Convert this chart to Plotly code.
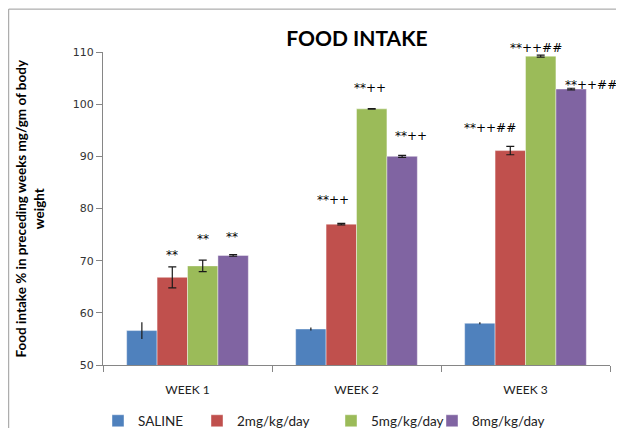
import plotly.graph_objects as go

weeks = ["WEEK 1", "WEEK 2", "WEEK 3"]
groups = ["SALINE", "2mg/kg/day", "5mg/kg/day", "8mg/kg/day"]
saline = [56.6, 56.9, 58.0]
mg2 = [66.8, 77.0, 91.1]
mg5 = [69.0, 99.1, 109.2]
mg8 = [71.0, 90.0, 102.9]
err_saline = [1.6, 0.3, 0.2]
err_mg2 = [2.0, 0.15, 0.8]
err_mg5 = [1.1, 0.05, 0.2]
err_mg8 = [0.15, 0.2, 0.15]
sig_mg2 = ["**", "**++", "**++##"]
sig_mg5 = ["**", "**++", "**++##"]
sig_mg8 = ["**", "**++", "**++##"]
y_ticks = [50, 60, 70, 80, 90, 100, 110]

values = [saline, mg2, mg5, mg8]
errors = [err_saline, err_mg2, err_mg5, err_mg8]
colors = ["#4F81BD", "#C0504D", "#9BBB59", "#8064A2"]
cap_w = [0, 4, 4, 4]

bargap = 0.28
bw = (1 - bargap) / 4
xs = list(range(len(weeks)))

fig = go.Figure()
legend_names = ["legend", "legend2", "legend3", "legend4"]
for j, (g, v, e, c) in enumerate(zip(groups, values, errors, colors)):
    fig.add_trace(go.Bar(
        x=xs, y=v, name=g,
        marker=dict(color=c, line=dict(color="rgba(255,255,255,0.6)", width=0.7)),
        error_y=dict(type="data", array=e, visible=True, color="#1a1a1a",
                     thickness=1.2, width=cap_w[j]),
        legend=legend_names[j],
    ))

# significance labels (placed above each bar top)
sig = [None, sig_mg2, sig_mg5, sig_mg8]
yshift = [None, [22, 24, 23], [27, 21, 8], [18, 20, 4]]
xshift = [None, [0, -8, -20], [0, -2, -5], [-1, 9, 20]]
for j in range(1, 4):
    for i in range(3):
        fig.add_annotation(
            x=i + (j - 1.5) * bw, y=values[j][i], xref="x", yref="y",
            text=sig[j][i], showarrow=False,
            xshift=xshift[j][i], yshift=yshift[j][i],
            font=dict(family="DejaVu Sans", size=12, color="#000"),
            xanchor="center", yanchor="middle")

# y-axis title
fig.add_annotation(
    x=-0.144, y=0.5, xref="paper", yref="paper", textangle=-90,
    text="<b>Food intake % in preceding weeks mg/gm of body<br>weight</b>",
    showarrow=False, font=dict(family="Lato", size=13.5, color="#000"),
    xanchor="center", yanchor="middle")

# outer chart border
fig.add_shape(type="rect", xref="paper", yref="paper",
              x0=-0.186, x1=1.2, y0=-0.5, y1=1.137,
              line=dict(color="#9a9a9a", width=1))

leg_x = [98, 197, 331, 432]
layout_legends = {}
for k, name in enumerate(legend_names):
    layout_legends[name] = dict(
        x=(leg_x[k] - 103) / 507, y=(365 - 421) / 313,
        xanchor="left", yanchor="middle", orientation="h",
        bgcolor="rgba(0,0,0,0)",
        font=dict(family="Lato", size=13.5, color="#222"),
        itemwidth=30)

# page places the figure 8px in from the top-left corner
fig.update_layout(
    width=616, height=420,
    margin=dict(l=95, r=14, t=44, b=63, autoexpand=False),
    paper_bgcolor="white", plot_bgcolor="white",
    barmode="group", bargap=bargap, bargroupgap=0,
    showlegend=True,
    title=dict(text="<b>FOOD INTAKE</b>", x=349 / 616, xanchor="center",
               y=1 - 31 / 420, yanchor="middle",
               font=dict(family="Lato", size=21, color="#000")),
    xaxis=dict(range=[-0.5, 2.5], tickvals=xs, ticktext=weeks,
               showline=True, linecolor="#868686", linewidth=1,
               showgrid=False, zeroline=False, ticks="",
               ticklabelstandoff=14,
               tickfont=dict(family="Lato", size=12, color="#222"),
               minor=dict(tickvals=[-0.5, 0.5, 1.5, 2.5], ticks="outside",
                          ticklen=6, tickcolor="#868686", showgrid=False)),
    yaxis=dict(range=[50, 110], tickvals=y_ticks,
               showline=True, linecolor="#868686", linewidth=1,
               showgrid=False, zeroline=False, ticks="outside", ticklen=6,
               tickcolor="#868686",
               tickfont=dict(family="DejaVu Sans", size=11, color="#333")),
    **layout_legends,
)

fig.write_html("out.html")
